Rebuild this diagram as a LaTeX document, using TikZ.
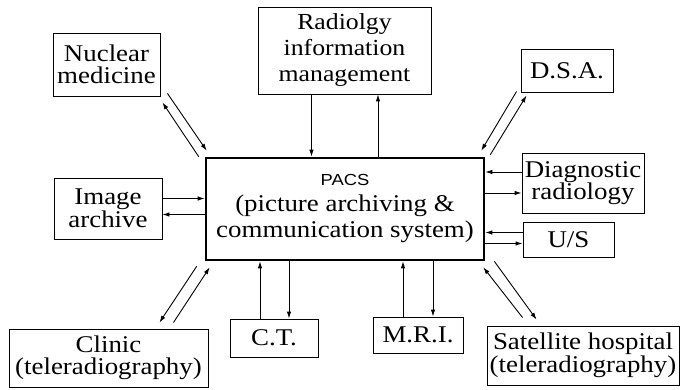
\documentclass[tikz,border=0pt]{standalone}
\usepackage{fontspec}
\setmainfont{Liberation Serif}[FakeStretch=1.12]
\setsansfont{Liberation Sans}[FakeStretch=1.15]
\usetikzlibrary{calc,arrows.meta}

\begin{document}
\begin{tikzpicture}[
    x=1pt, y=-1pt,
    box/.style = {draw, line width=.9pt, align=center, inner sep=0pt, font=\fontsize{24}{22.5}\selectfont},
    hub/.style = {box, line width=2.6pt, font=\fontsize{24}{26}\selectfont},
    flow/.style = {-{Latex[length=7pt,width=4.5pt]}, line width=.9pt},
    ]
    \useasboundingbox (0,0) rectangle (680,390);

    \node[hub, minimum width=278, minimum height=102] (pacs) at (345,209)
        {{\sffamily\fontsize{16}{16}\selectfont PACS}\\(picture archiving \&\\communication system)};
    \node[box, minimum width=107, minimum height=63] (nuc) at (106.5,64.5) {Nuclear\\medicine};
    \node[box, minimum width=173, minimum height=87, font=\fontsize{23}{26}\selectfont] (ris) at (344.5,50.5)
        {Radiolgy\\information\\management};
    \node[box, minimum width=92, minimum height=43] (dsa) at (567,70.5) {D.S.A.};
    \node[box, minimum width=122, minimum height=60] (diag) at (583,183) {Diagnostic\\radiology};
    \node[box, minimum width=91, minimum height=35] (us) at (568.5,239.5) {U/S};
    \node[box, minimum width=108, minimum height=61] (arch) at (108,208.5) {Image\\archive};
    \node[box, minimum width=199, minimum height=58] (clinic) at (108.5,358) {Clinic\\(teleradiography)};
    \node[box, minimum width=88, minimum height=38] (ct) at (274,338) {C.T.};
    \node[box, minimum width=90, minimum height=36] (mri) at (418,335) {M.R.I.};
    \node[box, minimum width=192, minimum height=59] (sat) at (583,355.5)
        {Satellite hospital\\(teleradiography)};

    % top
    \draw[flow] ([xshift=-33pt]ris.south) -- ([xshift=-33pt]ris.south |- pacs.north);
    \draw[flow] ([xshift=33pt]pacs.north) -- ([xshift=33pt]pacs.north |- ris.south);
    \draw[flow] ($(nuc.south east)+(7,-3)$) -- ($(pacs.north west)+(2,-6)$);
    \draw[flow] ($(pacs.north west)+(-6,0)$) -- ($(nuc.south east)+(2,6)$);
    \draw[flow] ($(dsa.south west)+(-4,-1)$) -- ($(pacs.north east)+(-4,-6)$);
    \draw[flow] ($(pacs.north east)+(5,-2)$) -- ($(dsa.south west)+(6,3)$);

    % sides
    \draw[flow] ([yshift=10pt]arch.east) -- ([yshift=10pt]arch.east -| pacs.west);
    \draw[flow] ([yshift=-6pt]arch.east -| pacs.west) -- ([yshift=-6pt]arch.east);
    \draw[flow] ([yshift=11pt]diag.west) -- ([yshift=11pt]diag.west -| pacs.east);
    \draw[flow] ([yshift=-10pt]diag.west -| pacs.east) -- ([yshift=-10pt]diag.west);
    \draw[flow] ([yshift=7pt]us.west) -- ([yshift=7pt]us.west -| pacs.east);
    \draw[flow] ([yshift=-4pt]us.west -| pacs.east) -- ([yshift=-4pt]us.west);

    % bottom
    \draw[flow] ([xshift=-14pt]ct.north) -- ([xshift=-14pt]ct.north |- pacs.south);
    \draw[flow] ([xshift=15pt]ct.north |- pacs.south) -- ([xshift=15pt]ct.north);
    \draw[flow] ([xshift=-15pt]mri.north) -- ([xshift=-15pt]mri.north |- pacs.south);
    \draw[flow] ([xshift=15pt]mri.north |- pacs.south) -- ([xshift=15pt]mri.north);
    \draw[flow] ($(pacs.south west)+(-8,5)$) -- ($(clinic.north east)+(-49,-6)$);
    \draw[flow] ($(clinic.north east)+(-35,-6)$) -- ($(pacs.south west)+(5,6)$);
    \draw[flow] ($(sat.north west)+(36,-8)$) -- ($(pacs.south east)+(-2,6)$);
    \draw[flow] ($(pacs.south east)+(9,0)$) -- ($(sat.north west)+(50,-6)$);
\end{tikzpicture}
\end{document}
